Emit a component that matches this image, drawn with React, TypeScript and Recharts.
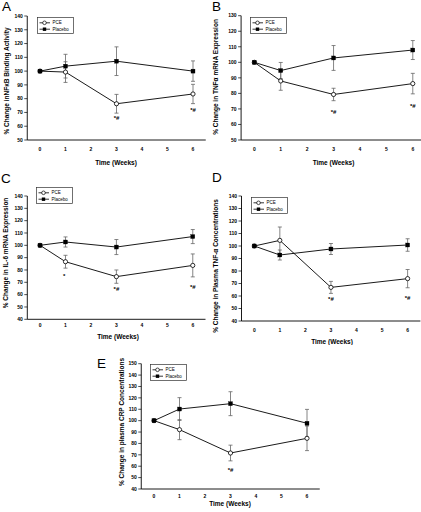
import React from 'react';
import { ComposedChart, Line, XAxis, YAxis, ErrorBar, ReferenceDot, Legend } from 'recharts';

const FONT = '"Liberation Sans", Arial, Helvetica, sans-serif';

// shared
const weeks = [0, 1, 3, 6];
const xTicks = [0, 1, 2, 3, 4, 5, 6];
const seriesNames = ['PCE', 'Placebo'];
const xTitle = 'Time (Weeks)';

// Panel A – NF-kB binding activity
const aPce = [100, 99.3, 76.3, 83.4];
const aPceErr = [0, 7.5, 6.8, 7.0];
const aPlacebo = [100, 103.6, 107.2, 100];
const aPlaceboErr = [0, 8.6, 10.4, 7.4];
const aTicks = [50, 60, 70, 80, 90, 100, 110, 120, 130, 140];
const aNoteWeeks = [3, 6];
const aNoteY = [66.3, 71.9];
const aNoteText = ['*#', '*#'];

// Panel B – TNF-a mRNA
const bPce = [100, 88, 79.3, 86.3];
const bPceErr = [0, 6, 4, 6.6];
const bPlacebo = [100, 94.7, 102.8, 107.9];
const bPlaceboErr = [0, 5.2, 8, 6.1];
const bTicks = [50, 60, 70, 80, 90, 100, 110, 120, 130];
const bNoteWeeks = [3, 6];
const bNoteY = [68.3, 72];
const bNoteText = ['*#', '*#'];

// Panel C – IL-6 mRNA
const cPce = [100, 86.7, 74.6, 83.7];
const cPceErr = [0, 5.2, 5.4, 9.3];
const cPlacebo = [100, 102.7, 98.6, 107.1];
const cPlaceboErr = [0, 4.1, 6.1, 5.7];
const cTicks = [40, 50, 60, 70, 80, 90, 100, 110, 120, 130, 140];
const cNoteWeeks = [0.95, 3, 6];
const cNoteY = [75, 64.4, 66.6];
const cNoteText = ['*', '*#', '*#'];

// Panel D – plasma TNF-a
const dPce = [100, 104.5, 66.9, 73.9];
const dPceErr = [0, 10.7, 4.8, 7.3];
const dPlacebo = [100, 92.8, 97.6, 100.8];
const dPlaceboErr = [0, 4, 4.4, 5];
const dTicks = [40, 50, 60, 70, 80, 90, 100, 110, 120, 130, 140];
const dNoteWeeks = [3, 6];
const dNoteY = [58.1, 58.7];
const dNoteText = ['*#', '*#'];

// Panel E – plasma CRP
const ePce = [100, 92.1, 71.6, 84.5];
const ePceErr = [0, 8.8, 6.9, 10.8];
const ePlacebo = [100, 110.2, 114.9, 97.7];
const ePlaceboErr = [0, 10, 10.5, 12.2];
const eTicks = [40, 50, 60, 70, 80, 90, 100, 110, 120, 130, 140, 150];
const eNoteWeeks = [3];
const eNoteY = [56.4];
const eNoteText = ['*#'];

type PanelCfg = {
  letter: string;
  letterPos: [number, number];
  left: number; top: number; width: number; height: number;
  margin: { top: number; right: number; bottom: number; left: number };
  yWidth: number; xHeight: number;
  yTicks: number[];
  pce: number[]; pceErr: number[]; placebo: number[]; placeboErr: number[];
  noteWeeks: number[]; noteY: number[]; noteText: string[];
  yTitle: string; yTitlePos: [number, number]; xTitlePos: [number, number];
  xTickGap: number; legendPos: [number, number];
};

const panels: PanelCfg[] = [
  {
    letter: 'A', letterPos: [2, 11],
    left: 0, top: 0, width: 210, height: 175,
    margin: { top: 16, right: 4.25, bottom: 0, left: 0.25 }, yWidth: 27, xHeight: 35,
    yTicks: aTicks, pce: aPce, pceErr: aPceErr, placebo: aPlacebo, placeboErr: aPlaceboErr,
    noteWeeks: aNoteWeeks, noteY: aNoteY, noteText: aNoteText,
    yTitle: '% Change inNF\u03BAB Binding Activity', yTitlePos: [6, 81], xTitlePos: [116, 162],
    xTickGap: 7.2, legendPos: [37, 17],
  },
  {
    letter: 'B', letterPos: [212, 11],
    left: 210, top: 0, width: 216, height: 175,
    margin: { top: 15.7, right: 0, bottom: 0, left: 0.1 }, yWidth: 31, xHeight: 35,
    yTicks: bTicks, pce: bPce, pceErr: bPceErr, placebo: bPlacebo, placeboErr: bPlaceboErr,
    noteWeeks: bNoteWeeks, noteY: bNoteY, noteText: bNoteText,
    yTitle: '% Change in TNF\u03B1 mRNA Expression', yTitlePos: [5, 77], xTitlePos: [123.5, 162],
    xTickGap: 7.7, legendPos: [40, 16.7],
  },
  {
    letter: 'C', letterPos: [1, 183],
    left: 0, top: 170, width: 210, height: 175,
    margin: { top: 26, right: 4.5, bottom: 0, left: 0.3 }, yWidth: 27, xHeight: 25.7,
    yTicks: cTicks, pce: cPce, pceErr: cPceErr, placebo: cPlacebo, placeboErr: cPlaceboErr,
    noteWeeks: cNoteWeeks, noteY: cNoteY, noteText: cNoteText,
    yTitle: '% Change in IL-6 mRNA Expression', yTitlePos: [5, 83], xTitlePos: [118, 166],
    xTickGap: 4, legendPos: [36, 17.3],
  },
  {
    letter: 'D', letterPos: [212, 182],
    left: 210, top: 170, width: 211, height: 175,
    margin: { top: 26, right: 0.6, bottom: 0, left: 0.5 }, yWidth: 31, xHeight: 24,
    yTicks: dTicks, pce: dPce, pceErr: dPceErr, placebo: dPlacebo, placeboErr: dPlaceboErr,
    noteWeeks: dNoteWeeks, noteY: dNoteY, noteText: dNoteText,
    yTitle: '% Change in Plasma TNF-\u03B1 Concentrations', yTitlePos: [5, 96], xTitlePos: [122, 171.5],
    xTickGap: 7.2, legendPos: [40.7, 26.7],
  },
  {
    letter: 'E', letterPos: [97, 368],
    left: 100, top: 340, width: 220, height: 172,
    margin: { top: 23.7, right: 0.25, bottom: 0, left: 0.25 }, yWidth: 41, xHeight: 23,
    yTicks: eTicks, pce: ePce, pceErr: ePceErr, placebo: ePlacebo, placeboErr: ePlaceboErr,
    noteWeeks: eNoteWeeks, noteY: eNoteY, noteText: eNoteText,
    yTitle: '% Change in plasma CRP Concentrations', yTitlePos: [21, 82], xTitlePos: [130, 163],
    xTickGap: 5.9, legendPos: [50, 24.3],
  },
];

const tickStyle = { fontSize: 5, fontWeight: 'bold', fill: '#000', fontFamily: FONT } as any;

const SquareDot = (p: any) => {
  if (p.cx == null || p.cy == null) return <g key={`sq-${p.index}`} />;
  return <rect key={`sq-${p.index}`} x={p.cx - 2} y={p.cy - 2} width={4} height={4} fill="#000" stroke="#000" strokeWidth={0.3} />;
};

const LegendBox = () => (
  <svg width={37} height={17} style={{ display: 'block' }}>
    <rect x={0.4} y={0.4} width={36.2} height={16.2} fill="#fff" stroke="#333" strokeWidth={0.7} />
    <line x1={2.5} y1={5.8} x2={13} y2={5.8} stroke="#000" strokeWidth={0.8} />
    <circle cx={7.5} cy={5.8} r={1.8} fill="#fff" stroke="#000" strokeWidth={0.7} />
    <text x={15.5} y={7.4} fontSize={4.5} fontFamily={FONT} fill="#000">{seriesNames[0]}</text>
    <line x1={2.5} y1={12.2} x2={13} y2={12.2} stroke="#000" strokeWidth={0.8} />
    <rect x={5.8} y={10.5} width={3.4} height={3.4} fill="#000" />
    <text x={15.5} y={13.8} fontSize={4.5} fontFamily={FONT} fill="#000">{seriesNames[1]}</text>
  </svg>
);

function Panel({ cfg }: { cfg: PanelCfg }) {
  const data = weeks.map((w, i) => ({
    week: w,
    pce: cfg.pce[i],
    pceErr: cfg.pceErr[i],
    placebo: cfg.placebo[i],
    placeboErr: cfg.placeboErr[i],
  }));
  const yDomain: [number, number] = [cfg.yTicks[0], cfg.yTicks[cfg.yTicks.length - 1]];
  const [ytx, yty] = cfg.yTitlePos;
  const [xtx, xty] = cfg.xTitlePos;
  return (
    <div style={{ position: 'absolute', left: cfg.left, top: cfg.top }}>
      <ComposedChart width={cfg.width} height={cfg.height} data={data} margin={cfg.margin}>
        <XAxis
          dataKey="week" type="number" domain={[-0.5, 6.5]} ticks={xTicks} interval={0}
          allowDataOverflow height={cfg.xHeight}
          axisLine={{ stroke: '#000', strokeWidth: 0.9 }} tickLine={false} tickSize={0} tickMargin={cfg.xTickGap}
          tick={tickStyle}
          label={{
            content: () => (
              <text x={xtx} y={xty} textAnchor="middle" dominantBaseline="central" fontSize={6.5} fontWeight="bold" fontFamily={FONT} fill="#000">{xTitle}</text>
            ),
          }}
        />
        <YAxis
          type="number" domain={yDomain} ticks={cfg.yTicks} interval={0} allowDataOverflow width={cfg.yWidth}
          axisLine={{ stroke: '#000', strokeWidth: 0.9 }} tickLine={{ stroke: '#000', strokeWidth: 0.7 }} tickSize={3} tickMargin={1.5}
          tick={tickStyle}
          label={{
            content: () => (
              <text x={ytx} y={yty} transform={`rotate(-90 ${ytx} ${yty})`} textAnchor="middle" dominantBaseline="central" fontSize={6.5} fontWeight="bold" fontFamily={FONT} fill="#000">{cfg.yTitle}</text>
            ),
          }}
        />
        <Legend
          layout="vertical" align="center" verticalAlign="middle"
          wrapperStyle={{ left: cfg.legendPos[0], top: cfg.legendPos[1], width: 37, height: 17 }}
          content={() => <LegendBox />}
        />
        <Line
          dataKey="pce" name={seriesNames[0]} stroke="#000" strokeWidth={0.9} isAnimationActive={false}
          dot={{ r: 2.1, fill: '#fff', stroke: '#000', strokeWidth: 0.8 }} activeDot={false}
        >
          <ErrorBar dataKey="pceErr" direction="y" width={2} stroke="#666" strokeWidth={0.8} />
        </Line>
        <Line
          dataKey="placebo" name={seriesNames[1]} stroke="#000" strokeWidth={0.9} isAnimationActive={false}
          dot={SquareDot} activeDot={false}
        >
          <ErrorBar dataKey="placeboErr" direction="y" width={2} stroke="#666" strokeWidth={0.8} />
        </Line>
        {cfg.noteWeeks.map((w, i) => (
          <ReferenceDot
            key={`n-${i}`} x={w} y={cfg.noteY[i]} r={0} fill="none" stroke="none"
            label={{ value: cfg.noteText[i], position: 'center', fontSize: 6, fontWeight: 'bold', fill: '#000', fontFamily: FONT }}
          />
        ))}
      </ComposedChart>
    </div>
  );
}

export default function App() {
  return (
    <div style={{ position: 'absolute', left: 0, top: 0, width: 421, height: 512, overflow: 'hidden', background: '#fff', fontFamily: FONT }}>
      {panels.map((p) => (
        <Panel key={p.letter} cfg={p} />
      ))}
      <svg width={421} height={512} style={{ position: 'absolute', left: 0, top: 0, pointerEvents: 'none' }}>
        {panels.map((p) => (
          <text key={p.letter} x={p.letterPos[0]} y={p.letterPos[1]} fontSize={13.5} fontFamily={FONT} fill="#000">{p.letter}</text>
        ))}
      </svg>
    </div>
  );
}
